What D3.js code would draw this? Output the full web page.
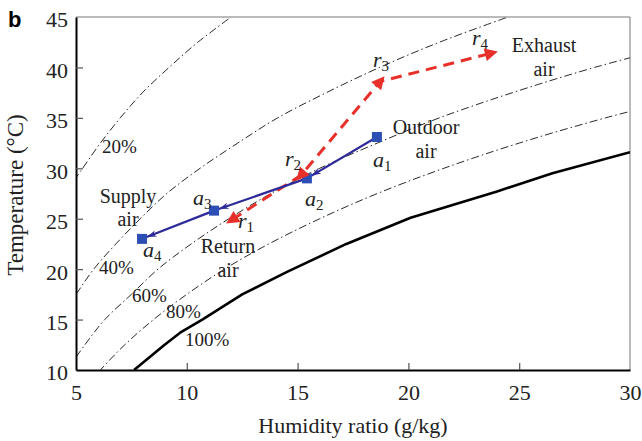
<!DOCTYPE html>
<html><head><meta charset="utf-8">
<script src="https://cdn.jsdelivr.net/npm/d3@7"></script>
<style>
body{margin:0;background:#fff;}
svg{display:block;}
text{font-family:"Liberation Serif","Times New Roman",serif;fill:#222;}
</style></head>
<body>
<svg id="c" width="642" height="441"></svg>
<script>
// ---- data ----
const xTicks = [5,10,15,20,25,30];
const yTicks = [10,15,20,25,30,35,40,45];

// relative humidity curves: temperature (°C) and humidity ratio (g/kg)
const rh20T = [27.5,30,32.5,35,37.5,40,42.5,45];
const rh20W = [4.5,5.3,6.1,7.0,8.0,9.2,10.5,12.0];
const rh40T = [15,17.5,20,22.5,25,27.5,30,32.5,35,37.5,40,42.5,45];
const rh40W = [4.2,5.0,5.8,6.8,7.9,9.1,10.6,12.3,14.1,16.3,18.7,21.4,24.5];
const rh60T = [10,12.5,15,17.5,20,22.5,25,27.5,30,32.5,35,37.5,40,42.5];
const rh60W = [4.6,5.4,6.3,7.5,8.7,10.2,11.9,13.8,16.0,18.6,21.4,24.7,28.4,32.7];
const rh80T = [7.5,10,12.5,15,17.5,20,22.5,25,27.5,30,32.5,35,37.5];
const rh80W = [5.1,6.1,7.2,8.5,10.0,11.7,13.7,16.0,18.6,21.6,25.0,28.9,33.4];
const rh100T = [10,12.5,13.7,15,17.5,19.7,22.5,25.1,27.7,29.5,31.6];
const rh100W = [7.62,9.0,9.7,10.7,12.5,14.5,17.2,20.1,24.0,26.5,30.0];

// outdoor/supply air states a1..a4
const aNames = ["1","2","3","4"];
const aW = [18.58,15.42,11.23,7.98];
const aT = [33.1,29.0,25.8,23.0];
// return/exhaust air states r1..r4
const rNames = ["1","2","3","4"];
const rW = [12.04,15.15,18.72,23.73];
const rT = [24.9,29.3,38.6,41.4];

// ---- chart ----
const svg = d3.select("#c");
const x = d3.scaleLinear().domain([5,30]).range([76,630]);
const y = d3.scaleLinear().domain([10,45]).range([370,17]);

svg.append("defs").append("clipPath").attr("id","clip")
  .append("rect").attr("x",76).attr("y",17).attr("width",554).attr("height",353);

// frame top/right (thin gray)
svg.append("line").attr("x1",76).attr("x2",630).attr("y1",17).attr("y2",17)
  .attr("stroke","#777").attr("stroke-width",1);
svg.append("line").attr("x1",630).attr("x2",630).attr("y1",17).attr("y2",370)
  .attr("stroke","#777").attr("stroke-width",1);

const plot = svg.append("g").attr("clip-path","url(#clip)");

function curve(W,T,smooth,style){
  const pts = W.map((w,i)=>[w,T[i]]);
  const gen = d3.line().x(d=>x(d[0])).y(d=>y(d[1]));
  if(smooth) gen.curve(d3.curveCatmullRom);
  const p = plot.append("path").attr("d",gen(pts)).attr("fill","none");
  style(p);
}
const dashDot = p=>p.attr("stroke","#111").attr("stroke-width",0.9).attr("stroke-dasharray","8,3,1.5,3");
curve(rh20W,rh20T,true,dashDot);
curve(rh40W,rh40T,true,dashDot);
curve(rh60W,rh60T,true,dashDot);
curve(rh80W,rh80T,true,dashDot);
curve(rh100W,rh100T,false,p=>p.attr("stroke","#000").attr("stroke-width",2.6).attr("stroke-linejoin","round"));

// RH labels
const rhLabels = [["20%",102,153],["40%",99,274],["60%",132,302],["80%",166,318],["100%",185,346]];
rhLabels.forEach(l=>svg.append("text").attr("x",l[1]).attr("y",l[2]).attr("font-size",19).text(l[0]));

// red dashed path
const rPts = rW.map((w,i)=>[w,rT[i]]);
svg.append("path").attr("d",d3.line().x(d=>x(d[0])).y(d=>y(d[1]))(rPts))
  .attr("fill","none").attr("stroke","#e8302a").attr("stroke-width",3)
  .attr("stroke-dasharray","11,7");

// blue solid path with arrowheads
svg.append("defs").append("marker").attr("id","barrow")
  .attr("viewBox","-10 -5 12 10").attr("refX",0).attr("refY",0)
  .attr("markerWidth",12).attr("markerHeight",10).attr("markerUnits","userSpaceOnUse")
  .attr("orient","auto")
  .append("path").attr("d","M-10,-3.2L0,0L-10,3.2L-7,0Z").attr("fill","#2e2a9a");
const aPts = aW.map((w,i)=>[x(w),y(aT[i])]);
for(let i=0;i<aPts.length-1;i++){
  const [x1,y1]=aPts[i],[x2,y2]=aPts[i+1];
  const dx=x2-x1, dy=y2-y1, L=Math.hypot(dx,dy);
  svg.append("line").attr("x1",x1).attr("y1",y1)
    .attr("x2",x2-dx/L*5).attr("y2",y2-dy/L*5)
    .attr("stroke","#2e2a9a").attr("stroke-width",2.2)
    .attr("marker-end","url(#barrow)");
}
// squares
svg.selectAll("rect.sq").data(aPts).enter().append("rect")
  .attr("x",d=>d[0]-5).attr("y",d=>d[1]-5).attr("width",10).attr("height",10)
  .attr("fill","#2d4fb5");

// red triangles oriented along flow
const rDir = [[1,0],[2,1],[1,2],[2,3]]; // from -> to index
rDir.forEach(([f,t])=>{
  const x1=x(rW[f]),y1=y(rT[f]),x2=x(rW[t]),y2=y(rT[t]);
  const ang=Math.atan2(y2-y1,x2-x1)*180/Math.PI;
  svg.append("path").attr("d","M7,0L-6,-6.5L-6,6.5Z")
    .attr("transform",`translate(${x2},${y2}) rotate(${ang})`)
    .attr("fill","#e8302a");
});

// italic state labels
function stateLabel(letter,sub,px,py){
  const t=svg.append("text").attr("x",px).attr("y",py).attr("font-size",22).attr("font-style","italic");
  t.append("tspan").text(letter);
  t.append("tspan").attr("dy",4).attr("font-size",15).attr("font-style","normal").text(sub);
}
const aLab = [[373,167],[305,206],[193,205],[143,257]];
aLab.forEach((p,i)=>stateLabel("a",aNames[i],p[0],p[1]));
const rLab = [[238,228],[285,166],[373,67],[472,45]];
rLab.forEach((p,i)=>stateLabel("r",rNames[i],p[0],p[1]));

// descriptive labels
const descr = [["Supply",128,203],["air",128,226],["Return",228,253],["air",228,277],
  ["Outdoor",426,134],["air",426,158],["Exhaust",544,52],["air",544,76]];
descr.forEach(d=>svg.append("text").attr("x",d[1]).attr("y",d[2]).attr("font-size",20)
  .attr("text-anchor","middle").text(d[0]));

// axes
const xAxis = svg.append("g").attr("transform","translate(0,370)")
  .call(d3.axisBottom(x).tickValues(xTicks).tickSizeInner(-7).tickSizeOuter(0).tickPadding(14));
const yAxis = svg.append("g").attr("transform","translate(76,0)")
  .call(d3.axisLeft(y).tickValues(yTicks).tickSizeInner(-7).tickSizeOuter(0).tickPadding(8));
[xAxis,yAxis].forEach(a=>{
  a.select(".domain").attr("stroke","#000").attr("stroke-width",2);
  a.selectAll(".tick line").attr("stroke","#555").attr("stroke-width",1.2);
  a.selectAll(".tick text").style("font-size","22px").attr("fill","#222");
});
xAxis.selectAll(".tick").filter(d=>d===5||d===30).select("line").remove();
yAxis.selectAll(".tick").filter(d=>d===10||d===45).select("line").remove();
yAxis.selectAll(".tick text").attr("dy","0.45em");

svg.append("text").attr("x",353).attr("y",433).attr("font-size",22).attr("text-anchor","middle")
  .text("Humidity ratio (g/kg)");
svg.append("text").attr("transform","translate(23,195) rotate(-90)").attr("font-size",23)
  .attr("text-anchor","middle").text("Temperature (°C)");
svg.append("text").attr("x",8).attr("y",27).attr("font-size",22).attr("font-weight","bold")
  .style("font-family","'Liberation Sans', Arial, sans-serif").style("fill","#000").text("b");
</script>
</body></html>
